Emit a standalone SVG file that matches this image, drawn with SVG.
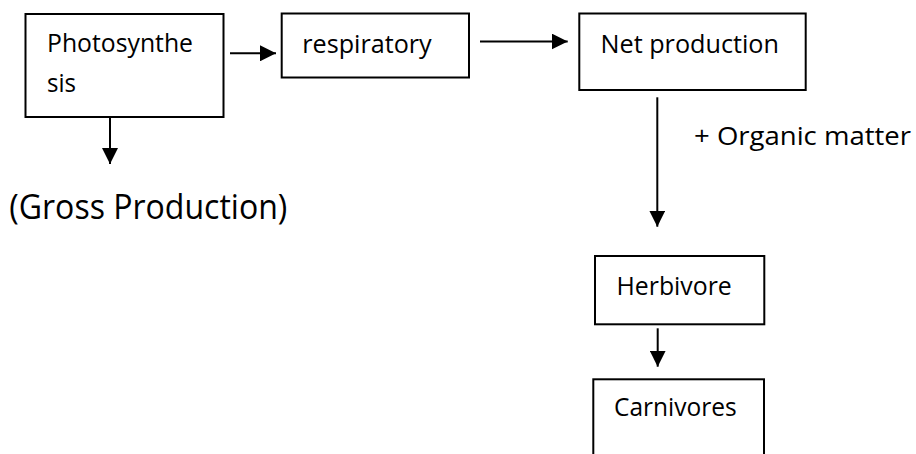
<svg xmlns="http://www.w3.org/2000/svg" width="916" height="454" viewBox="0 0 916 454">
<style>
.box{fill:#fff;stroke:#000;stroke-width:2}
.lbl{font-family:"Open Sans","Liberation Sans",sans-serif;font-size:26px;fill:#000}
.big{font-family:"Open Sans","Liberation Sans",sans-serif;font-size:34px;fill:#000}
.con{stroke:#000;stroke-width:2;fill:none;marker-end:url(#ah)}
</style>
<defs>
<marker id="ah" markerUnits="userSpaceOnUse" markerWidth="16" markerHeight="16" refX="16" refY="8" orient="auto">
<path d="M0,0 L16,8 L0,16 z" fill="#000"/>
</marker>
</defs>
<rect width="916" height="454" fill="#fff"/>
<g id="photosynthesis">
<rect class="box" x="25.5" y="14" width="198" height="103"/>
<text class="lbl" x="47" y="51.7" textLength="146" lengthAdjust="spacingAndGlyphs">Photosynthe</text>
<text class="lbl" x="47" y="91.7" textLength="29" lengthAdjust="spacingAndGlyphs">sis</text>
</g>
<g id="respiratory">
<rect class="box" x="281.7" y="13.5" width="187.3" height="64"/>
<text class="lbl" x="302.3" y="52.7" textLength="129.4" lengthAdjust="spacingAndGlyphs">respiratory</text>
</g>
<g id="net-production">
<rect class="box" x="579.3" y="13.5" width="226.4" height="76.5"/>
<text class="lbl" x="600.5" y="52.7" textLength="178.5" lengthAdjust="spacingAndGlyphs">Net production</text>
</g>
<g id="herbivore">
<rect class="box" x="595" y="256" width="169.3" height="68.3"/>
<text class="lbl" x="616.5" y="295" textLength="115.3" lengthAdjust="spacingAndGlyphs">Herbivore</text>
</g>
<g id="carnivores">
<rect class="box" x="593.3" y="379.3" width="170.7" height="90"/>
<text class="lbl" x="614" y="416" textLength="122.7" lengthAdjust="spacingAndGlyphs">Carnivores</text>
</g>
<g id="gross-production">
<text class="big" x="9.3" y="219" textLength="278" lengthAdjust="spacingAndGlyphs">(Gross Production)</text>
</g>
<g id="connectors">
<line class="con" x1="230" y1="53.3" x2="276" y2="53.3"/>
<line class="con" x1="110" y1="118" x2="110" y2="164"/>
<line class="con" x1="480" y1="41.5" x2="567.7" y2="41.5"/>
<line class="con" x1="657.3" y1="97.3" x2="657.3" y2="226.7"/>
<line class="con" x1="657.7" y1="328.3" x2="657.7" y2="366.7"/>
<text class="lbl" x="694" y="145" textLength="217" lengthAdjust="spacingAndGlyphs">+ Organic matter</text>
</g>
</svg>
